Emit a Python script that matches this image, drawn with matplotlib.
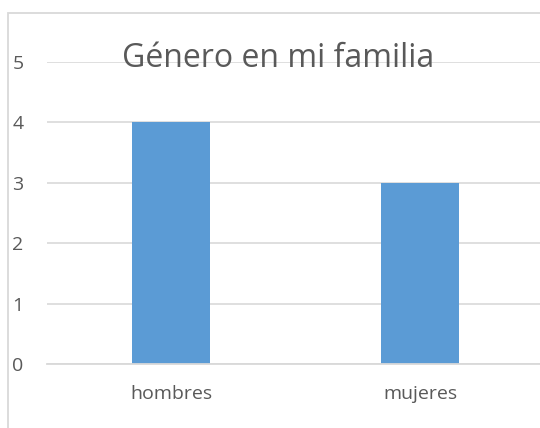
import matplotlib
matplotlib.use("Agg")
import matplotlib.pyplot as plt
from matplotlib.patches import Rectangle

categories = ["hombres", "mujeres"]
values = [4, 3]
yticks = [0, 1, 2, 3, 4, 5]
title = "Género en mi familia"

plt.rcParams['font.family'] = ['Open Sans', 'DejaVu Sans']
W, H = 540, 428
fig = plt.figure(figsize=(W/100, H/100), dpi=100)

# chart border
fig.patches.append(Rectangle((8/W, -0.1), 1.2, (H-13)/H + 0.1, transform=fig.transFigure,
                             fill=False, edgecolor='#d9d9d9', linewidth=1.3))

ax = fig.add_axes([46.5/W, 64/H, 498/W, (364-62)/H])
x = range(len(categories))
ax.bar(x, values, width=0.313, color='#5b9bd5', zorder=2)
ax.set_xlim(-0.5, 1.5)
ax.set_ylim(0, 5)
ax.set_yticks(yticks)
ax.set_xticks(list(x))
ax.set_xticklabels(categories)
ax.yaxis.grid(True, color='#d9d9d9', linewidth=1.2, zorder=0)
ax.set_axisbelow(True)
for s in ['top', 'right', 'left']:
    ax.spines[s].set_visible(False)
ax.spines['bottom'].set_color('#d9d9d9')
ax.spines['bottom'].set_linewidth(1.3)
ax.tick_params(axis='both', length=0, colors='#595959', labelsize=14)
ax.tick_params(axis='x', pad=15)
for lab in ax.get_yticklabels():
    lab.set_horizontalalignment('left')
ax.yaxis.set_tick_params(pad=24.5)

fig.text(278/W, 1 - 67/H, title, ha='center', va='baseline', fontsize=23, color='#595959')

fig.savefig("out.png", dpi=100)
